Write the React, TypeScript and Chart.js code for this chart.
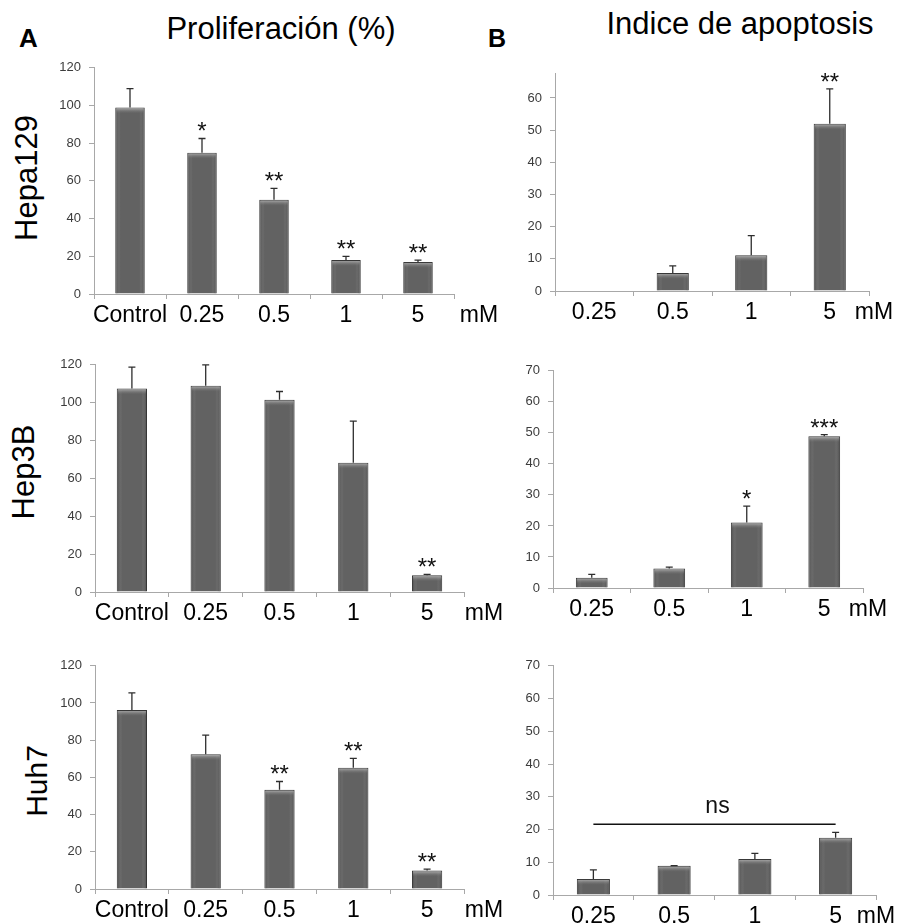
import React, { useEffect, useRef } from "react";
import { Chart, registerables } from "chart.js";

Chart.register(...registerables);

// ---------- data ----------
const prolifCategories = ["Control", "0.25", "0.5", "1", "5"];
const apopCategories = ["0.25", "0.5", "1", "5"];
const prolifTicks = [0, 20, 40, 60, 80, 100, 120];
const apopTicksShort = [0, 10, 20, 30, 40, 50, 60];
const apopTicks = [0, 10, 20, 30, 40, 50, 60, 70];

const hepa129Prolif = [99, 75, 50, 18, 17];
const hepa129ProlifErr = [10, 7.5, 6, 2, 1];
const hepa129ProlifSig = ["", "*", "**", "**", "**"];

const hepa129Apop = [0, 5.6, 11.1, 52];
const hepa129ApopErr = [0, 2.2, 6.1, 10.8];
const hepa129ApopSig = ["", "", "", "**"];

const hep3bProlif = [107.5, 109, 101.5, 68.3, 8.8];
const hep3bProlifErr = [11.3, 11, 4.4, 22, 0.5];
const hep3bProlifSig = ["", "", "", "", "**"];

const hep3bApop = [3.3, 6.3, 21.1, 48.9];
const hep3bApopErr = [1.1, 0.4, 5.3, 0.5];
const hep3bApopSig = ["", "", "*", "***"];

const huh7Prolif = [96.2, 72.5, 53.3, 65.2, 9.9];
const huh7ProlifErr = [9.2, 10.2, 4.5, 5, 0.8];
const huh7ProlifSig = ["", "", "**", "**", "**"];

const huh7Apop = [4.9, 8.9, 11.0, 17.5];
const huh7ApopErr = [2.8, 0.1, 1.7, 1.6];
const huh7ApopSig = ["", "", "", ""];
const huh7NsLevel = 21.6;

const unitLabel = "mM";
const FONT = "'Liberation Sans', Arial, Helvetica, sans-serif";

type Panel = {
  labels: string[];
  values: number[];
  errors: number[];
  marks: string[];
  ticks: number[];
  yMax: number;
  area: { l: number; r: number; t: number; b: number };
  unitDx: number;
  ns?: { from: number; to: number; value: number; text: string };
};

const panels: Panel[] = [
  { labels: prolifCategories, values: hepa129Prolif, errors: hepa129ProlifErr, marks: hepa129ProlifSig, ticks: prolifTicks, yMax: 120, area: { l: 94, r: 454, t: 66, b: 294 }, unitDx: 25 },
  { labels: apopCategories, values: hepa129Apop, errors: hepa129ApopErr, marks: hepa129ApopSig, ticks: apopTicksShort, yMax: 67.5, area: { l: 555, r: 869, t: 72, b: 291 }, unitDx: 5 },
  { labels: prolifCategories, values: hep3bProlif, errors: hep3bProlifErr, marks: hep3bProlifSig, ticks: prolifTicks, yMax: 120, area: { l: 95, r: 464, t: 363, b: 592 }, unitDx: 20 },
  { labels: apopCategories, values: hep3bApop, errors: hep3bApopErr, marks: hep3bApopSig, ticks: apopTicks, yMax: 70, area: { l: 553, r: 863, t: 369, b: 588 }, unitDx: 5 },
  { labels: prolifCategories, values: huh7Prolif, errors: huh7ProlifErr, marks: huh7ProlifSig, ticks: prolifTicks, yMax: 120, area: { l: 95, r: 464, t: 664, b: 889 }, unitDx: 20 },
  { labels: apopCategories, values: huh7Apop, errors: huh7ApopErr, marks: huh7ApopSig, ticks: apopTicks, yMax: 70, area: { l: 553, r: 876, t: 664, b: 895 }, unitDx: 0, ns: { from: 0, to: 3, value: huh7NsLevel, text: "ns" } },
];

const YW = 60;
const PT = 14;
const PR = 50;
const XH = 44;
const X_FONT = 23;
const X_TICK = 5;
const X_PAD = 3;

function BarPanel({ panel }: { panel: Panel }) {
  const ref = useRef<HTMLCanvasElement>(null);
  const { area } = panel;
  const left = area.l - YW;
  const top = area.t - PT;
  const width = area.r - area.l + YW + PR;
  const height = area.b - area.t + PT + XH;

  useEffect(() => {
    const canvas = ref.current;
    if (!canvas) return;
    const decor = {
      id: "decor",
      afterDatasetsDraw(chart: any) {
        const c = chart.ctx as CanvasRenderingContext2D;
        const meta = chart.getDatasetMeta(0);
        const ys = chart.scales.y;
        c.save();
        meta.data.forEach((bar: any, i: number) => {
          const p = bar.getProps(["x", "y", "base", "width"], true);
          const v = panel.values[i];
          const l = p.x - p.width / 2;
          const w = p.width;
          const h = p.base - p.y;
          if (v > 0 && h > 2) {
            // side shading
            const g = c.createLinearGradient(l, 0, l + w, 0);
            g.addColorStop(0, "rgba(30,30,30,0.35)");
            g.addColorStop(0.18, "rgba(255,255,255,0.04)");
            g.addColorStop(0.82, "rgba(255,255,255,0.04)");
            g.addColorStop(1, "rgba(30,30,30,0.35)");
            c.fillStyle = g;
            c.fillRect(l + 1, p.y + 1, w - 2, h - 1);
            // top highlight
            const hh = Math.min(6, h - 1);
            const g2 = c.createLinearGradient(0, p.y, 0, p.y + hh);
            g2.addColorStop(0, "rgba(200,200,200,0.85)");
            g2.addColorStop(1, "rgba(120,120,120,0)");
            c.fillStyle = g2;
            c.fillRect(l + 1, p.y + 1, w - 2, hh);
          }
          const err = panel.errors[i];
          let yTop = p.y;
          if (err > 0) {
            yTop = ys.getPixelForValue(v + err);
            c.strokeStyle = "#2e2e2e";
            c.lineWidth = 1.3;
            c.beginPath();
            c.moveTo(p.x, p.y);
            c.lineTo(p.x, yTop);
            c.moveTo(p.x - 3.5, yTop);
            c.lineTo(p.x + 3.5, yTop);
            c.stroke();
          }
          const mark = panel.marks[i];
          if (mark) {
            c.font = `24px ${FONT}`;
            c.fillStyle = "#111";
            c.textAlign = "center";
            c.textBaseline = "alphabetic";
            c.fillText(mark, p.x, yTop + 1);
          }
        });
        c.restore();
      },
      afterDraw(chart: any) {
        const c = chart.ctx as CanvasRenderingContext2D;
        const xs = chart.scales.x;
        const ys = chart.scales.y;
        c.save();
        c.font = `${X_FONT}px ${FONT}`;
        c.fillStyle = "#000";
        c.textAlign = "center";
        c.textBaseline = "middle";
        c.fillText(unitLabel, chart.chartArea.right + panel.unitDx, chart.chartArea.bottom + X_TICK + X_PAD + (X_FONT * 1.2) / 2);
        if (panel.ns) {
          const x0 = xs.getPixelForValue(panel.ns.from);
          const x1 = xs.getPixelForValue(panel.ns.to);
          const yl = ys.getPixelForValue(panel.ns.value);
          c.strokeStyle = "#111";
          c.lineWidth = 1.5;
          c.beginPath();
          c.moveTo(x0, yl);
          c.lineTo(x1, yl);
          c.stroke();
          c.font = `23px ${FONT}`;
          c.textBaseline = "alphabetic";
          c.fillStyle = "#111";
          c.fillText(panel.ns.text, (x0 + x1) / 2 + 3, yl - 11);
        }
        c.restore();
      },
    };

    const chart = new Chart(canvas, {
      type: "bar",
      data: {
        labels: panel.labels,
        datasets: [
          {
            data: panel.values,
            backgroundColor: "#5c5c5c",
            borderColor: "#363636",
            borderWidth: 1,
            barPercentage: 0.41,
            categoryPercentage: 1,
          },
        ],
      },
      options: {
        responsive: false,
        animation: false,
        events: [],
        devicePixelRatio: 1,
        layout: { padding: { left: 0, top: PT, right: PR, bottom: 0 } },
        plugins: {
          legend: { display: false },
          tooltip: { enabled: false },
          title: { display: false },
        },
        scales: {
          x: {
            grid: { display: true, drawOnChartArea: false, drawTicks: true, tickLength: X_TICK, color: "#a8a8a8", offset: true },
            border: { display: true, color: "#a8a8a8", width: 1 },
            ticks: { color: "#000", font: { family: FONT, size: X_FONT }, padding: X_PAD, maxRotation: 0, minRotation: 0, autoSkip: false },
            afterFit: (s: any) => {
              s.height = XH;
            },
          },
          y: {
            min: 0,
            max: panel.yMax,
            grid: { display: true, drawOnChartArea: false, drawTicks: true, tickLength: 5, color: "#a8a8a8" },
            border: { display: true, color: "#a8a8a8", width: 1 },
            ticks: { color: "#3c3c3c", font: { family: FONT, size: 13 }, padding: 8 },
            afterBuildTicks: (s: any) => {
              s.ticks = panel.ticks.map((v) => ({ value: v }));
            },
            afterFit: (s: any) => {
              s.width = YW;
            },
          },
        },
      },
      plugins: [decor],
    } as any);
    return () => chart.destroy();
  }, [panel]);

  return (
    <canvas
      ref={ref}
      width={width}
      height={height}
      style={{ position: "absolute", left, top, width, height }}
    />
  );
}

const textBase: React.CSSProperties = {
  position: "absolute",
  fontFamily: FONT,
  lineHeight: 1,
  whiteSpace: "nowrap",
  color: "#000",
};

function Label({ text, x, y, size, bold, rotate }: { text: string; x: number; y: number; size: number; bold?: boolean; rotate?: boolean }) {
  return (
    <div
      style={{
        ...textBase,
        left: x,
        top: y,
        fontSize: size,
        fontWeight: bold ? 700 : 400,
        transform: `translate(-50%, -50%)${rotate ? " rotate(-90deg)" : ""}`,
      }}
    >
      {text}
    </div>
  );
}

export default function App() {
  return (
    <div style={{ position: "absolute", left: 0, top: 0, width: 898, height: 924, background: "#fff", overflow: "hidden" }}>
      <Label text="A" x={28.5} y={37.5} size={26} bold />
      <Label text="Proliferación (%)" x={281} y={28} size={31} />
      <Label text="B" x={497} y={38} size={25} bold />
      <Label text="Indice de apoptosis" x={740} y={22.5} size={31} />
      <Label text="Hepa129" x={26} y={178} size={31} rotate />
      <Label text="Hep3B" x={23} y={472} size={31} rotate />
      <Label text="Huh7" x={37} y={781} size={30} rotate />
      {panels.map((p, i) => (
        <BarPanel key={i} panel={p} />
      ))}
    </div>
  );
}
